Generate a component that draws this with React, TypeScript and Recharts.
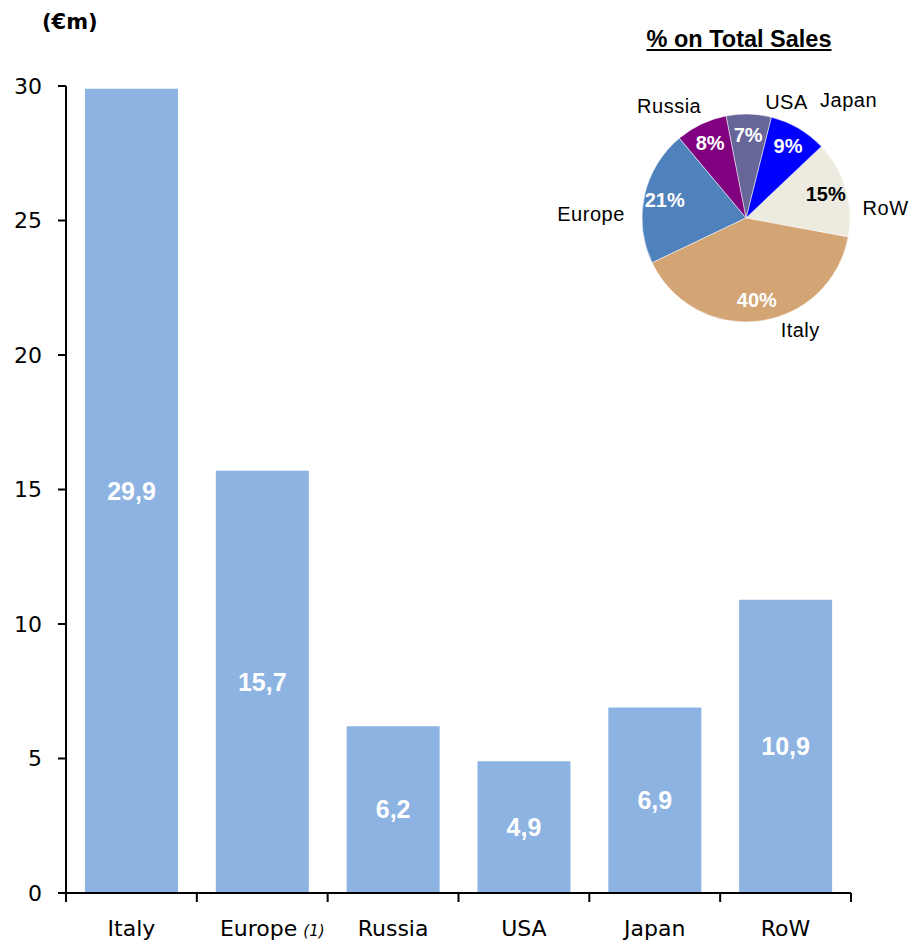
import { Bar, BarChart, Cell, LabelList, Pie, PieChart, XAxis, YAxis } from "recharts";

const categories = ["Italy", "Europe", "Russia", "USA", "Japan", "RoW"];
const sales = [29.9, 15.7, 6.2, 4.9, 6.9, 10.9];
const yTicks = [0, 5, 10, 15, 20, 25, 30];

const pieNames = ["RoW", "Japan", "USA", "Russia", "Europe", "Italy"];
const pieShares = [15, 9, 7, 8, 21, 40];
const pieColors = ["#EDEBE0", "#0000FF", "#666699", "#800080", "#4F81BD", "#D3A474"];
const pieTextColors = ["#000000", "#ffffff", "#ffffff", "#ffffff", "#ffffff", "#ffffff"];
// small hand tweaks so the outside names sit where the original placed them
const nameNudge = [
  [13, 27],
  [36, -4],
  [37, 16],
  [-20, 7],
  [-26, 24],
  [37, -19],
];

const barData = categories.map((name, i) => ({ name, value: sales[i] }));
const pieData = pieNames.map((name, i) => ({ name, value: pieShares[i] }));

const CHART_W = 912;
const MARGIN_RIGHT = 61;
const Y_AXIS_W = 66;
const BAND = (CHART_W - MARGIN_RIGHT - Y_AXIS_W) / categories.length;

const AXIS_FONT = "'DejaVu Sans', sans-serif";
const LABEL_FONT = "'Liberation Sans', Arial, sans-serif";
const RAD = Math.PI / 180;

function CategoryTick({ x, y, payload, index }: any) {
  const tick = (tx: number) => (
    <line x1={tx} y1={y} x2={tx} y2={y + 9} stroke="#000" strokeWidth={2} />
  );
  return (
    <g>
      {tick(x - BAND / 2)}
      {index === categories.length - 1 && tick(x + BAND / 2)}
      {payload.value === "Europe" ? (
        <text x={x + 10} y={y} dy={43} textAnchor="middle" fill="#000" fontFamily={AXIS_FONT} fontSize={22}>
          <tspan>Europe</tspan>
          <tspan dx={6} fontSize={15} fontStyle="italic">(1)</tspan>
        </text>
      ) : (
        <text x={x} y={y} dy={43} textAnchor="middle" fill="#000" fontFamily={AXIS_FONT} fontSize={22}>
          {payload.value}
        </text>
      )}
    </g>
  );
}

function PieLabel({ cx, cy, midAngle, outerRadius, index }: any) {
  const cos = Math.cos(-midAngle * RAD);
  const sin = Math.sin(-midAngle * RAD);
  const ri = outerRadius * 0.8;
  const ro = outerRadius + 28;
  return (
    <g>
      <text
        x={cx + ri * cos}
        y={cy + ri * sin}
        textAnchor="middle"
        dominantBaseline="central"
        fill={pieTextColors[index]}
        fontFamily={LABEL_FONT}
        fontWeight="bold"
        fontSize={20}
      >
        {pieShares[index]}%
      </text>
      <text
        x={cx + ro * cos + nameNudge[index][0]}
        y={cy + ro * sin + nameNudge[index][1]}
        textAnchor="middle"
        dominantBaseline="central"
        fill="#000"
        fontFamily={LABEL_FONT}
        fontSize={20}
        letterSpacing={0.5}
      >
        {pieNames[index]}
      </text>
    </g>
  );
}

export default function App() {
  return (
    <div style={{ position: "absolute", left: 0, top: 0, width: 912, height: 944, background: "#fff" }}>
      <div
        style={{
          position: "absolute",
          left: 42,
          top: 10,
          fontFamily: AXIS_FONT,
          fontWeight: "bold",
          fontSize: 21,
        }}
      >
        (€m)
      </div>
      <BarChart
        width={CHART_W}
        height={944}
        data={barData}
        margin={{ top: 86, right: MARGIN_RIGHT, bottom: 0, left: 0 }}
        barCategoryGap="14.5%"
      >
        <XAxis
          dataKey="name"
          height={51}
          interval={0}
          axisLine={{ stroke: "#000", strokeWidth: 2 }}
          tickLine={false}
          tickSize={0}
          tickMargin={0}
          tick={<CategoryTick />}
        />
        <YAxis
          width={Y_AXIS_W}
          domain={[0, 30]}
          ticks={yTicks}
          interval={0}
          axisLine={{ stroke: "#000", strokeWidth: 2 }}
          tickLine={{ stroke: "#000", strokeWidth: 2 }}
          tickSize={8}
          tickMargin={16}
          tick={{ fill: "#000", fontFamily: AXIS_FONT, fontSize: 22 }}
        />
        <Bar dataKey="value" fill="#8DB3E2" isAnimationActive={false}>
          <LabelList
            dataKey="value"
            position="center"
            fill="#fff"
            fontFamily={LABEL_FONT}
            fontWeight="bold"
            fontSize={25}
            formatter={(v: any) => Number(v).toFixed(1).replace(".", ",")}
          />
        </Bar>
      </BarChart>

      <div
        style={{
          position: "absolute",
          left: 586,
          top: 26,
          width: 306,
          textAlign: "center",
          fontFamily: LABEL_FONT,
          fontWeight: "bold",
          fontSize: 23.5,
          textDecoration: "underline",
        }}
      >
        % on Total Sales
      </div>
      <div style={{ position: "absolute", left: 500, top: 55 }}>
        <PieChart width={412} height={320}>
          <Pie
            data={pieData}
            dataKey="value"
            cx={241}
            cy={158}
            outerRadius={104}
            startAngle={-10.5}
            endAngle={349.5}
            stroke="#fff"
            strokeWidth={0.5}
            labelLine={false}
            label={<PieLabel />}
            isAnimationActive={false}
          >
            {pieData.map((_, i) => (
              <Cell key={`slice-${i}`} fill={pieColors[i]} />
            ))}
          </Pie>
        </PieChart>
      </div>
    </div>
  );
}
